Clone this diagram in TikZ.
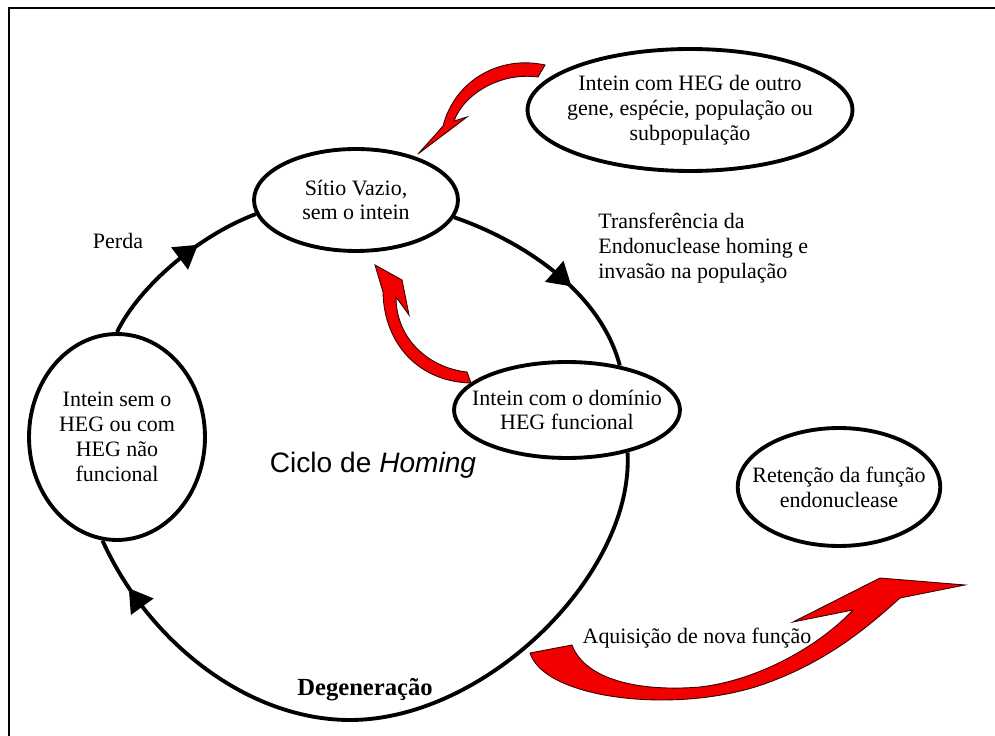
\documentclass[tikz,border=0pt]{standalone}
\usepackage{fontspec}
\setmainfont{Liberation Serif}
\newfontfamily\arialfont{Liberation Sans}
\usetikzlibrary{shapes.geometric}
\usetikzlibrary{decorations.markings}

\begin{document}
\begin{tikzpicture}[x=0.02cm,y=-0.02cm,
    bubble/.style={ellipse,draw,line width=2.2pt,fill=white,inner sep=-0.3cm,align=center,
        font=\fontsize{12.5pt}{14.2pt}\selectfont},
    cycleline/.style={line width=2.2pt},
    tri/.style={postaction={decorate,decoration={markings,
        mark=at position #1 with {\fill (7pt,0) -- (-6pt,8pt) -- (-6pt,-8pt) -- cycle;}}}},
    txt/.style={inner sep=0pt,font=\fontsize{12.5pt}{14.2pt}\selectfont},
    redarrow/.style={fill=red!95!black,draw=black!80!red,line width=0.5pt}]
    \fill[white] (0,0) rectangle (995,736);
    \useasboundingbox (0,0) rectangle (995,736);
    %frame
    \draw[line width=1.7pt] (9,740) -- (9,8) -- (1000,8);

    %ellipses
    \node[bubble,minimum width=4.08cm,minimum height=2.04cm] (sitio) at (356,200) {Sítio Vazio,\\sem o intein};
    \node[bubble,minimum width=6.5cm,minimum height=2.44cm] (outro) at (690,110) {Intein com HEG de outro\\gene, espécie, população ou\\subpopulação};
    \node[bubble,minimum width=4.52cm,minimum height=1.92cm] (dominio) at (567,410) {Intein com o domínio\\HEG funcional};
    \node[bubble,minimum width=3.52cm,minimum height=4.12cm] (semheg) at (117,437) {Intein sem o\\HEG ou com\\HEG não\\funcional};
    \node[bubble,minimum width=3.88cm,minimum height=2.36cm] (retencao) at (839,487) {Retenção da função\\endonuclease};

    %cycle
    \draw[cycleline,tri=0.54] (sitio.-10) .. controls (520,240) and (600,290) .. (dominio.40);
    \draw[cycleline,tri=0.91] (dominio.-35) .. controls (634,575) and (485,720) .. (350,720)
        .. controls (250,720) and (150,645) .. (semheg.-98);
    \draw[cycleline,tri=0.58] (semheg.90) .. controls (140,285) and (200,235) .. (sitio.188);

    %red arrows
    \filldraw[redarrow] (545,65) .. controls (500,55) and (455,80) .. (443,126) -- (436,134) -- (418,154)
        -- (467,117) -- (454,121) .. controls (464,94) and (500,72) .. (538,77) -- cycle;
    \filldraw[redarrow] (375,265) -- (402,280) -- (409,315) -- (396,297)
        .. controls (396,340) and (430,368) .. (467,372) -- (471,383)
        .. controls (420,382) and (384,345) .. (383,292) -- cycle;
    \filldraw[redarrow] (530,653) .. controls (545,700) and (680,715) .. (767,683)
        .. controls (830,660) and (870,625) .. (900,598) -- (965,585) -- (880,578) -- (793,622)
        -- (853,610) .. controls (820,645) and (760,680) .. (700,687)
        .. controls (640,692) and (585,680) .. (572,645) -- cycle;

    %labels
    \node[txt] (perda) at (118,241) {Perda};
    \node[txt,anchor=west,align=left] (transf) at (598,248) {Transferência da\\Endonuclease homing e\\invasão na população};
    \node[inner sep=0pt,font=\arialfont\fontsize{16pt}{18pt}\selectfont] (ciclo) at (373,465) {Ciclo de \textit{Homing}};
    \node[inner sep=0pt,font=\fontsize{14pt}{16pt}\selectfont\bfseries] (degen) at (365,690) {Degeneração};
    \node[txt] (aquis) at (697,638) {Aquisição de nova função};
\end{tikzpicture}
\end{document}
